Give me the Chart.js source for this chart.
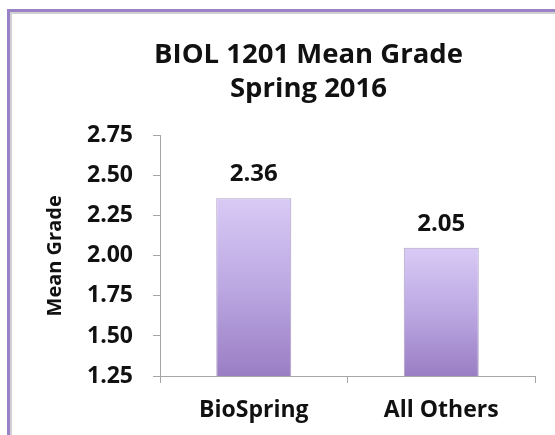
<!DOCTYPE html>
<html>
<head>
<meta charset="utf-8">
<script src="https://cdn.jsdelivr.net/npm/chart.js@4"></script>
<style>
  html, body { margin: 0; padding: 0; background: #fff; overflow: hidden; }
  #frame {
    position: absolute; left: 7px; top: 9px; width: 700px; height: 600px;
    border-left: 3px solid #9a82c6; border-top: 3px solid #9a82c6;
    box-shadow: inset 2px 2px 0 #d0d0d0;
  }
  #chartBox { position: absolute; left: 0; top: 0; }
</style>
</head>
<body>
<div id="frame"></div>
<div id="chartBox"><canvas id="gradeChart" width="617" height="435"></canvas></div>
<script>
// data
const categories = ['BioSpring', 'All Others'];
const meanGrades = [2.36, 2.05];
const yMin = 1.25, yMax = 2.75, yStep = 0.25;

const FONT = '"Open Sans", Lato, sans-serif';

// lavender gradient per bar, light at the top
function barFill(c) {
    const chart = c.chart;
    const y = chart.scales.y;
    if (!chart.chartArea || c.raw === undefined) return '#b8a4dc';
    const top = y.getPixelForValue(c.raw);
    const g = chart.ctx.createLinearGradient(0, top, 0, y.bottom);
    g.addColorStop(0, '#d8caf5');
    g.addColorStop(0.5, '#bca8e2');
    g.addColorStop(1, '#9a7ec4');
    return g;
}

// value labels above the bars
const valueLabels = {
    id: 'valueLabels',
    afterDatasetsDraw(chart) {
        const ctx = chart.ctx;
        const meta = chart.getDatasetMeta(0);
        ctx.save();
        ctx.font = 'bold 24px ' + FONT;
        ctx.fillStyle = '#111';
        ctx.textAlign = 'center';
        ctx.textBaseline = 'middle';
        meta.data.forEach((bar, i) => {
            ctx.fillText(meanGrades[i].toFixed(2), bar.x, bar.y - 24);
        });
        ctx.restore();
    }
};

const ctx = document.getElementById('gradeChart').getContext('2d');

new Chart(ctx, {
    type: 'bar',
    data: {
        labels: categories,
        datasets: [{
            label: 'Mean Grade',
            data: meanGrades,
            backgroundColor: barFill,
            borderColor: 'rgba(110, 85, 150, 0.55)',
            borderWidth: 1,
            categoryPercentage: 1,
            barPercentage: 0.4
        }]
    },
    options: {
        responsive: false,
        animation: false,
        layout: { padding: 0 },
        plugins: {
            legend: { display: false },
            tooltip: { enabled: false },
            title: {
                display: true,
                text: ['BIOL 1201 Mean Grade', 'Spring 2016'],
                color: '#111',
                font: { family: FONT, size: 27.5, weight: 'bold', lineHeight: 1.25 },
                padding: { top: 38, bottom: 29 }
            }
        },
        scales: {
            x: {
                grid: { drawOnChartArea: false, tickLength: 7, color: '#a6a6a6' },
                border: { color: '#a6a6a6' },
                ticks: { color: '#111', padding: 14, font: { family: FONT, size: 23, weight: 'bold' } },
                afterFit: s => { s.height = 59; }
            },
            y: {
                min: yMin,
                max: yMax,
                grid: { drawOnChartArea: false, tickLength: 7, color: '#a6a6a6' },
                border: { color: '#a6a6a6' },
                ticks: {
                    stepSize: yStep,
                    color: '#111',
                    padding: 20,
                    font: { family: FONT, size: 23, weight: 'bold' },
                    callback: v => v.toFixed(2)
                },
                title: {
                    display: true,
                    text: 'Mean Grade',
                    color: '#111',
                    font: { family: FONT, size: 20, weight: 'bold' },
                    padding: { top: 43 }
                },
                afterFit: s => { s.width = 160; }
            },
            // empty right margin so the plot ends where the original one does
            pad: {
                axis: 'y',
                position: 'right',
                grid: { display: false },
                border: { display: false },
                ticks: { display: false },
                afterFit: s => { s.width = 82; }
            }
        }
    },
    plugins: [valueLabels]
});
</script>
</body>
</html>
